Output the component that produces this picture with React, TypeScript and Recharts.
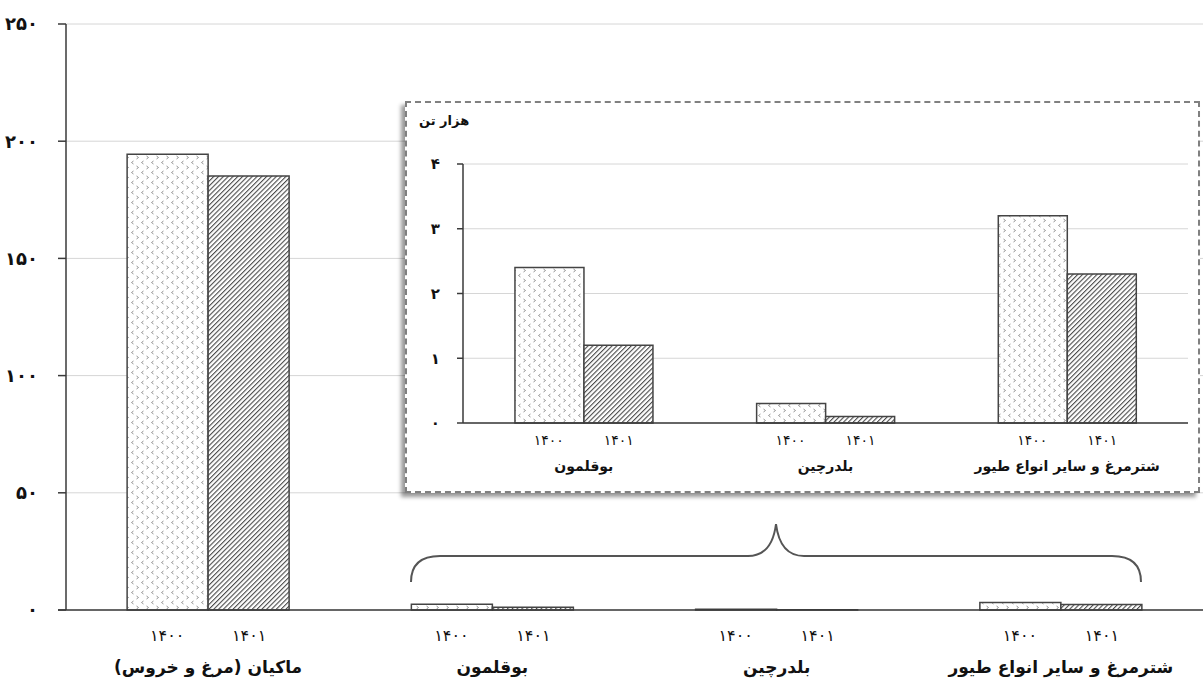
import React from "react";
import { BarChart, Bar, XAxis, YAxis, CartesianGrid } from "recharts";

const categories = [
  "ماکیان (مرغ و خروس)",
  "بوقلمون",
  "بلدرچین",
  "شترمرغ و سایر انواع طیور",
];
const years = [1400, 1401];
const values1400 = [194.4, 2.4, 0.3, 3.2];
const values1401 = [185.2, 1.2, 0.1, 2.3];
const mainTicks = [0, 50, 100, 150, 200, 250];
const insetTicks = [0, 1, 2, 3, 4];
const insetUnit = "هزار تن";

const FA = "۰۱۲۳۴۵۶۷۸۹";
const toFa = (v: number | string) => String(v).replace(/\d/g, (d) => FA[+d]);

const mainData = categories.map((name, i) => ({
  name,
  y1400: values1400[i],
  y1401: values1401[i],
}));
const insetData = mainData.slice(1);

const FONT = "'DejaVu Sans', 'Noto Sans', sans-serif";
const AXIS = "#3a3a3a";
const GRID = "#d6d6d6";

function makeTick(offset: number, yearDy: number, nameDy: number, yearSize: number, nameSize: number) {
  return function Tick(props: any) {
    const { x, y, payload } = props;
    return (
      <g fontFamily={FONT} fill="#111">
        <text x={x - offset} y={y + yearDy} dy="0.35em" textAnchor="middle" fontSize={yearSize} letterSpacing={3} fill="#111">
          {toFa(years[0])}
        </text>
        <text x={x + offset} y={y + yearDy} dy="0.35em" textAnchor="middle" fontSize={yearSize} letterSpacing={3} fill="#111">
          {toFa(years[1])}
        </text>
        <text x={x} y={y + nameDy} dy="0.35em" textAnchor="middle" direction="rtl" fontSize={nameSize} fontWeight="bold" fill="#111">
          {payload.value}
        </text>
      </g>
    );
  };
}

const MainTick = makeTick(41, 25, 57, 16, 17);
const InsetTick = makeTick(35, 17, 43, 14, 14);

export default function App() {
  return (
    <div style={{ position: "absolute", left: 0, top: 0, width: 1203, height: 685, background: "#fff" }}>
      <svg width="0" height="0" style={{ position: "absolute" }}>
        <defs>
          <pattern id="dots" width="10" height="10" patternUnits="userSpaceOnUse">
            <rect width="10" height="10" fill="#fff" />
            <path d="M3.5 1 L1.5 2.5 L3.5 4" stroke="#8a8a8a" fill="none" strokeWidth="0.9" />
            <path d="M6.5 6 L8.5 7.5 L6.5 9" stroke="#8a8a8a" fill="none" strokeWidth="0.9" />
          </pattern>
          <pattern id="hatch" width="3.4" height="3.4" patternUnits="userSpaceOnUse" patternTransform="rotate(45)">
            <rect width="3.4" height="3.4" fill="#fff" />
            <line x1="0" y1="0" x2="0" y2="3.4" stroke="#4a4a4a" strokeWidth="2.2" />
          </pattern>
        </defs>
      </svg>

      <BarChart
        width={1203}
        height={685}
        data={mainData}
        margin={{ top: 24, right: 0, left: 0, bottom: 0 }}
        barCategoryGap="21.5%"
        barGap={0}
      >
        <CartesianGrid vertical={false} stroke={GRID} />
        <XAxis
          dataKey="name"
          height={75}
          axisLine={{ stroke: AXIS, strokeWidth: 1.5 }}
          tickLine={false}
          tickSize={0}
          tickMargin={0}
          interval={0}
          tick={<MainTick />}
        />
        <YAxis
          width={66}
          domain={[0, 250]}
          ticks={mainTicks}
          interval={0}
          axisLine={{ stroke: AXIS, strokeWidth: 1.5 }}
          tickLine={{ stroke: AXIS, strokeWidth: 1.5 }}
          tickSize={8}
          tickMargin={20}
          tickFormatter={toFa}
          tick={{ fontFamily: FONT, fontSize: 18, fontWeight: "bold", fill: "#111" }}
        />
        <Bar dataKey="y1400" fill="url(#dots)" stroke="#444" strokeWidth={1.5} isAnimationActive={false} />
        <Bar dataKey="y1401" fill="url(#hatch)" stroke="#444" strokeWidth={1.5} isAnimationActive={false} />
      </BarChart>

      <svg width={1203} height={685} style={{ position: "absolute", left: 0, top: 0, pointerEvents: "none" }}>
        <line x1={58} y1={610} x2={66} y2={610} stroke={AXIS} strokeWidth={1.5} />
        <path
          d="M411,582 Q411,556 440,556 L748,556 Q772,556 776,524 Q780,556 804,556 L1112,556 Q1141,556 1141,582"
          fill="none"
          stroke="#555"
          strokeWidth={2}
        />
      </svg>

      <div
        style={{
          position: "absolute",
          left: 405,
          top: 101,
          width: 795,
          height: 392,
          boxSizing: "border-box",
          border: "2px dashed #808080",
          background: "#fff",
          boxShadow: "-4px 4px 4px rgba(0,0,0,0.4)",
        }}
      >
        <div
          style={{
            position: "absolute",
            left: 12,
            top: 10,
            fontFamily: FONT,
            fontSize: 13,
            fontWeight: "bold",
            direction: "rtl",
            color: "#111",
          }}
        >
          {insetUnit}
        </div>
        <BarChart
          width={791}
          height={388}
          data={insetData}
          margin={{ top: 61, right: 10, left: 0, bottom: 0 }}
          barCategoryGap="21.5%"
          barGap={0}
        >
          <CartesianGrid vertical={false} stroke={GRID} />
          <XAxis
            dataKey="name"
            height={68}
            axisLine={{ stroke: AXIS, strokeWidth: 1.5 }}
            tickLine={false}
            tickSize={0}
            tickMargin={0}
            interval={0}
            tick={<InsetTick />}
          />
          <YAxis
            width={56}
            domain={[0, 4]}
            ticks={insetTicks}
            interval={0}
            axisLine={{ stroke: AXIS, strokeWidth: 1.5 }}
            tickLine={{ stroke: AXIS, strokeWidth: 1.5 }}
            tickSize={6}
            tickMargin={17}
            tickFormatter={toFa}
            tick={{ fontFamily: FONT, fontSize: 15, fontWeight: "bold", fill: "#111" }}
          />
          <Bar dataKey="y1400" fill="url(#dots)" stroke="#444" strokeWidth={1.5} isAnimationActive={false} />
          <Bar dataKey="y1401" fill="url(#hatch)" stroke="#444" strokeWidth={1.5} isAnimationActive={false} />
        </BarChart>
      </div>
    </div>
  );
}
